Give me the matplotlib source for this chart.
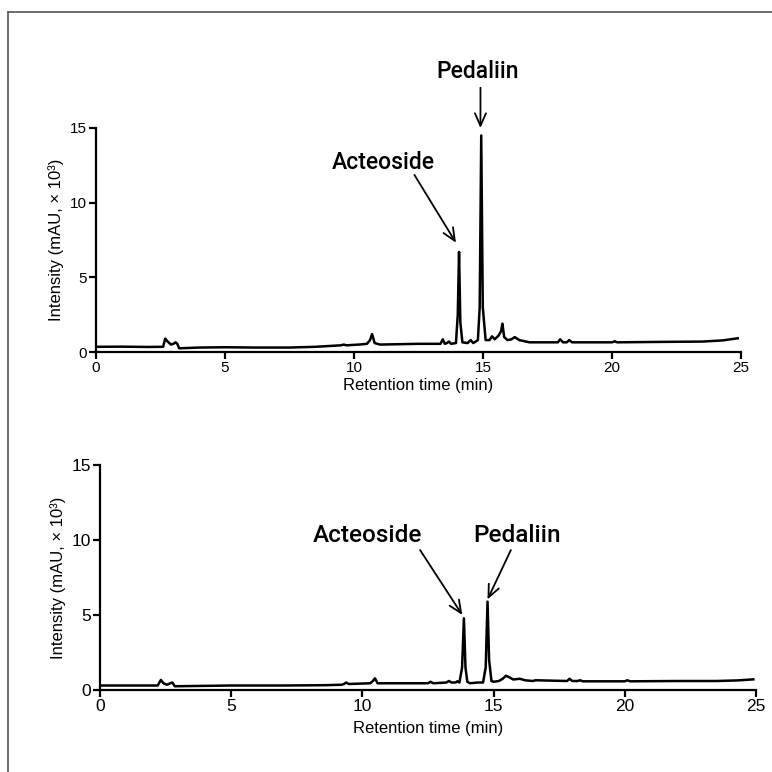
import matplotlib
matplotlib.use("Agg")
import matplotlib.pyplot as plt
from matplotlib.lines import Line2D

# Chromatogram 1 (upper panel): retention time (min) and intensity (mAU x 10^3)
time_top = [0, 1.0, 2.0, 2.6, 2.68, 2.75, 2.9, 3.0, 3.08, 3.15, 3.22, 4.0, 5, 6.2, 7.5, 8.5, 9.5, 9.6, 9.7,
            10.2, 10.5, 10.62, 10.7, 10.8, 11.0, 12.5, 13.35, 13.44, 13.52, 13.6, 13.68, 13.76,
            13.95, 14.02, 14.07, 14.12, 14.2, 14.4, 14.52, 14.62, 14.8, 14.87, 14.93, 14.99,
            15.1, 15.25, 15.35, 15.45, 15.6, 15.7, 15.75, 15.82, 15.95, 16.1, 16.23, 16.4,
            16.8, 17.9, 17.99, 18.1, 18.25, 18.34, 18.45, 20.0, 20.1, 20.2, 22, 23.5, 24.3, 24.87]
signal_top = [0.35, 0.36, 0.34, 0.35, 0.9, 0.75, 0.5, 0.55, 0.65, 0.55, 0.25, 0.3, 0.32, 0.3, 0.3, 0.35, 0.45, 0.5, 0.45,
              0.5, 0.55, 0.8, 1.2, 0.6, 0.5, 0.55, 0.55, 0.85, 0.55, 0.6, 0.7, 0.55,
              0.6, 2.5, 6.7, 2.0, 0.65, 0.6, 0.8, 0.6, 0.8, 3.0, 14.5, 3.0,
              0.8, 0.8, 1.05, 0.85, 1.1, 1.4, 1.9, 1.0, 0.8, 0.85, 1.0, 0.8,
              0.65, 0.65, 0.85, 0.65, 0.65, 0.8, 0.65, 0.65, 0.72, 0.65, 0.68, 0.7, 0.78, 0.92]

# Chromatogram 2 (lower panel)
time_bot = [0, 2.2, 2.32, 2.42, 2.55, 2.68, 2.76, 2.85, 5, 7, 8.5, 9.2, 9.3, 9.38, 9.48,
            10.3, 10.4, 10.48, 10.58, 11, 12.5, 12.6, 12.7, 13.2, 13.3, 13.4, 13.55, 13.62,
            13.7, 13.8, 13.87, 13.93, 14.0, 14.1, 14.4, 14.6, 14.7, 14.77, 14.83, 14.92,
            15.0, 15.2, 15.35, 15.47, 15.6, 15.75, 16.0, 16.2, 16.5, 16.6, 17.8, 17.9,
            18.0, 18.2, 18.3, 18.4, 20.0, 20.1, 20.2, 22, 23.5, 24.3, 24.9]
signal_bot = [0.3, 0.3, 0.67, 0.45, 0.35, 0.45, 0.5, 0.25, 0.3, 0.3, 0.32, 0.35, 0.4, 0.5, 0.4,
              0.45, 0.6, 0.78, 0.45, 0.45, 0.45, 0.55, 0.45, 0.5, 0.6, 0.5, 0.5, 0.58,
              0.5, 1.5, 4.78, 1.5, 0.55, 0.45, 0.5, 0.5, 1.5, 5.89, 2.0, 0.6,
              0.55, 0.6, 0.75, 0.95, 0.85, 0.7, 0.75, 0.65, 0.6, 0.65, 0.6, 0.75,
              0.6, 0.6, 0.65, 0.58, 0.58, 0.65, 0.58, 0.6, 0.6, 0.64, 0.71]

peak_names = ['Acteoside', 'Pedaliin']

xticks = [0, 5, 10, 15, 20, 25]
yticks = [0, 5, 10, 15]

ylab = 'Intensity (mAU, \u00d7 10\u00b3)'
xlab = 'Retention time (min)'

fig = plt.figure(figsize=(7.72, 7.72), dpi=100)

ax1 = fig.add_axes([0.1244, 0.544, 0.8355, 0.2902])
ax2 = fig.add_axes([0.1295, 0.1062, 0.8497, 0.2915])

sans = ['Liberation Sans', 'DejaVu Sans']
ann_top = {'family': ['Roboto', 'DejaVu Sans'], 'weight': 'medium', 'size': 16.5}
ann_bot = {'family': ['Roboto', 'DejaVu Sans'], 'weight': 'medium', 'size': 17.5}

# (axes, x, y, tick font size, label font size, xlabel pad)
panels = [(ax1, time_top, signal_top, 11, 12, 2), (ax2, time_bot, signal_bot, 12.5, 12, 5)]

for ax, t, s, tick_fs, lab_fs, xpad in panels:
    ax.plot(t, s, color='black', lw=1.8, solid_joinstyle='round')
    ax.set_xlim(0, 25)
    ax.set_ylim(0, 15)
    ax.set_xticks(xticks)
    ax.set_yticks(yticks)
    ax.spines['top'].set_visible(False)
    ax.spines['right'].set_visible(False)
    ax.spines['left'].set_linewidth(1.6)
    ax.spines['bottom'].set_linewidth(1.6)
    ax.tick_params(direction='out', length=5, width=1.6, pad=1.5,
                   labelsize=tick_fs, labelfontfamily='Liberation Sans')
    ax.set_xlabel(xlab, family=sans, fontsize=lab_fs, labelpad=xpad)
    ax.set_ylabel(ylab, family=sans, fontsize=lab_fs, labelpad=4)

arrow = dict(arrowstyle='->,head_length=0.9,head_width=0.4', color='black', lw=1.3,
             shrinkA=0, shrinkB=0)

# upper panel labels
ax1.annotate('', xy=(13.95, 7.32), xytext=(12.34, 11.86), arrowprops=arrow, annotation_clip=False)
ax1.annotate('', xy=(14.9, 15.0), xytext=(14.9, 17.7), arrowprops=arrow, annotation_clip=False)
ax1.text(11.12, 12.7, peak_names[0], ha='center', va='center', fontdict=ann_top, clip_on=False)
ax1.text(14.8, 18.75, peak_names[1], ha='center', va='center', fontdict=ann_top, clip_on=False)

# lower panel labels
ax2.annotate('', xy=(13.81, 5.0), xytext=(12.2, 9.33), arrowprops=arrow, annotation_clip=False)
ax2.annotate('', xy=(14.77, 6.04), xytext=(15.66, 9.33), arrowprops=arrow, annotation_clip=False)
ax2.text(10.19, 10.33, peak_names[0], ha='center', va='center', fontdict=ann_bot, clip_on=False)
ax2.text(15.91, 10.33, peak_names[1], ha='center', va='center', fontdict=ann_bot, clip_on=False)

# outer frame (left and top edges)
fx = 8 / 772
fy = 1 - 12 / 772
fig.add_artist(Line2D([fx, fx], [0, fy], transform=fig.transFigure, color='#555555', lw=1.2))
fig.add_artist(Line2D([fx, 1], [fy, fy], transform=fig.transFigure, color='#555555', lw=1.2))

fig.savefig('out.png', dpi=100)
